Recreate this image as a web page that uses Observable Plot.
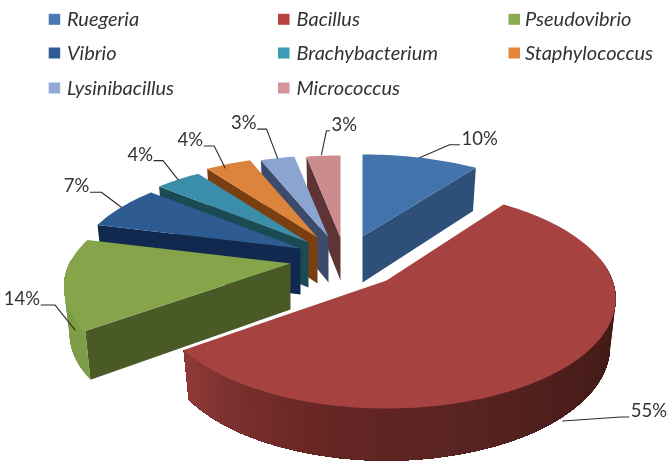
<!DOCTYPE html>
<html><head><meta charset="utf-8">
<script src="https://cdn.jsdelivr.net/npm/d3@7"></script>
<script src="https://cdn.jsdelivr.net/npm/@observablehq/plot@0.6"></script>
<style>html,body{margin:0;padding:0;background:#fff}svg{display:block;filter:blur(.35px)}</style>
</head><body><div id="chart"></div>
<script>
// Data
const genera = ["Ruegeria","Bacillus","Pseudovibrio","Vibrio","Brachybacterium","Staphylococcus","Lysinibacillus","Micrococcus"];
const percents = [10,55,14,7,4,4,3,3];

// Styles
const topColors  = ["#4273ab","#a64341","#86a54b","#2f5b93","#3b8ea9","#dc843c","#8ba5d1","#cc8b8d"];
const wallColors = ["#2d4f78","#5a2422","#4a5a27","#12294f","#1b4a55","#7a3f10","#3c4a6c","#5e3436"];
const rimColors  = ["#2d4f78","#5a2422","#7d9d47","#12294f","#1b4a55","#7a3f10","#3c4a6c","#5e3436"];
const legendColors = ["#4a7ab5","#b9413f","#8bab4f","#2f5c96","#3d9ab8","#e4853a","#94a9d8","#d49398"];

// Layout: the exploded centre of each slice and its projection [rx, ry, perspective]
const sliceCentres = [[362,236],[386,280],[290,263],[300,248],[308,242],[317,237],[328,237],[340,237]];
const sliceDepths = [46,47,46,46,45,46,45,43];
const sliceProj = [[227,100,.219],[226,106.6,.167],[221,100,.219],[221,100,.219],[221,100,.219],[221,100,.219],[221,100,.219],[221,100,.219]];
const BOTTOM_X = 0.975, BOTTOM_Y = 1.04;
// Leader layout, relative to the rim point at each slice's middle angle:
// [anchor nudge x, y, elbow x, y, end x, y]
const leaders = [
  [-1,0, 30,-13, 40,-13],
  [-5,55, 58,-4, 66,-4],
  [11,47, -20,-25, -34,-25],
  [0,0, -20,-15, -31,-15],
  [0,0, -15,-19, -24,-19],
  [-3,4, -11,-22, -21,-22],
  [0,0, -11,-29, -20,-29],
  [-2,-1, 5,-24, 8,-24]
];
const legendCols = [[48.7,66.5],[278,296],[508.5,524.5]];
const legendRows = [19.3,53,88];

// Geometry
const rad = d => d*Math.PI/180;
const offset = (p,t) => {
  const s = 1/(1+p[2]*Math.cos(rad(t)));
  return [p[0]*Math.sin(rad(t))*s, -p[1]*Math.cos(rad(t))*s];
};
const topPt = (sl,t) => { const [dx,dy]=offset(sl.p,t); return [sl.c[0]+dx, sl.c[1]+dy]; };
const botPt = (sl,t) => { const [dx,dy]=offset(sl.p,t); return [sl.c[0]+BOTTOM_X*dx, sl.c[1]+sl.d+BOTTOM_Y*dy]; };
const range = (a,b,step=1.5) => { const r=[]; for(let t=a;t<b;t+=step) r.push(t); r.push(b); return r; };

const ends = Array.from(d3.cumsum(percents), v => v*360/100);
const slices = genera.map((g,i)=>({g,i,c:sliceCentres[i],d:sliceDepths[i],p:sliceProj[i],a:i?ends[i-1]:0,b:ends[i]}));
const order = [7,6,5,4,3,2,0,1];

const rows = []; let pid = 0;
const addPoly = (pts,fill) => { const id=pid++; pts.forEach(([x,y])=>rows.push({id,fill,x,y})); };
const bacillusWall = d3.scaleLinear()
  .domain([78,110,140,165,190,215,234])
  .range(["#3a1814","#431b17","#4e1f1c","#5a2422","#642523","#7a302e","#913a38"]);

for (const k of order) {
  const s = slices[k], c = s.c;
  // straight cut wall
  if (s.b <= 180 || s.a >= 180) {
    const e = s.b <= 180 ? s.b : s.a;
    addPoly([c, topPt(s,e), botPt(s,e), [c[0],c[1]+s.d]], wallColors[k]);
  }
  // curved outer wall, only where it faces the viewer; strips overlap so no seams show
  const lo = Math.max(s.a,78), hi = Math.min(s.b,272);
  if (lo < hi) {
    const ts = range(lo,hi,2);
    for (let j=0;j<ts.length-1;j++) {
      const f = k===1 ? bacillusWall(ts[j]) : rimColors[k];
      const tail = range(ts[j], hi, 2);
      addPoly([...tail.map(t=>topPt(s,t)), ...tail.reverse().map(t=>botPt(s,t))], f);
    }
  }
  // top face
  addPoly([c, ...range(s.a,s.b).map(t=>topPt(s,t))], topColors[k]);
}

const leaderRows = [], labels = [];
slices.forEach((s,i)=>{
  const L = leaders[i];
  const m = topPt(s,(s.a+s.b)/2);
  const a = [m[0]+L[0], m[1]+L[1]];
  [a,[a[0]+L[2],a[1]+L[3]],[a[0]+L[4],a[1]+L[5]]].forEach(([x,y])=>leaderRows.push({i,x,y}));
  const right = L[4] > 0;
  labels.push({x:a[0]+L[4]+(right?2:-1), y:a[1]+L[5]-6, text:percents[i]+"%", anchor:right?"start":"end"});
});

const legend = genera.map((g,i)=>({
  g, fill:legendColors[i],
  sx:legendCols[i%3][0], tx:legendCols[i%3][1], y:legendRows[Math.floor(i/3)]
}));

const font = "Lato, 'Open Sans', sans-serif";
const chart = Plot.plot({
  width:669, height:468, margin:0,
  x:{domain:[0,669],range:[0,669],axis:null},
  y:{domain:[0,468],range:[0,468],axis:null},
  style:{background:"#fff"},
  marks:[
    Plot.line(rows,{x:"x",y:"y",z:"id",fill:"fill",curve:"linear-closed",stroke:null}),
    Plot.line(leaderRows,{x:"x",y:"y",z:"i",stroke:"#2b2b2b",strokeWidth:1.1}),
    Plot.text(labels.filter(d=>d.anchor==="start"),{x:"x",y:"y",text:"text",textAnchor:"start",fontSize:18.5,fontFamily:font,fill:"#333"}),
    Plot.text(labels.filter(d=>d.anchor==="end"),{x:"x",y:"y",text:"text",textAnchor:"end",fontSize:18.5,fontFamily:font,fill:"#333"}),
    Plot.rect(legend,{x1:"sx",x2:d=>d.sx+11.5,y1:d=>d.y-5.5,y2:d=>d.y+5.5,fill:"fill"}),
    Plot.text(legend,{x:"tx",y:"y",text:"g",textAnchor:"start",fontSize:20,fontStyle:"italic",fontFamily:font,fill:"#333"})
  ]
});
document.getElementById("chart").append(chart);
</script></body></html>
